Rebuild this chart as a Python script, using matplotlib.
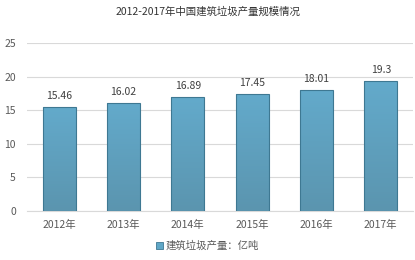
import numpy as np
import matplotlib
matplotlib.use("Agg")
import matplotlib.pyplot as plt
from matplotlib.colors import LinearSegmentedColormap

plt.rcParams['font.family'] = ['Noto Sans CJK SC', 'DejaVu Sans']

years = ["2012年", "2013年", "2014年", "2015年", "2016年", "2017年"]
values = [15.46, 16.02, 16.89, 17.45, 18.01, 19.3]
value_labels = ["15.46", "16.02", "16.89", "17.45", "18.01", "19.3"]
series_name = "建筑垃圾产量：亿吨"

fig = plt.figure(figsize=(4.15, 2.6), dpi=100)
ax = fig.add_axes([0.065, 0.188, 0.93, 0.647])

x = np.arange(len(years))
bars = ax.bar(x, values, width=0.51, color="#5FA7C7", edgecolor="#3E7892",
              linewidth=0.8, label=series_name, zorder=3)

# light vertical shading, darker toward the bottom
cmap = LinearSegmentedColormap.from_list("bar", ["#5B95AF", "#63AACB"])
grad = np.linspace(0, 1, 100).reshape(-1, 1)
for b in bars:
    x0, w, h = b.get_x(), b.get_width(), b.get_height()
    im = ax.imshow(grad, extent=[x0, x0 + w, 0, h], origin="lower", cmap=cmap,
                   aspect="auto", zorder=3.1)
    im.set_clip_path(b)
    b.set_facecolor("none")
    b.set_zorder(3.2)

for xi, v, lab in zip(x, values, value_labels):
    ax.text(xi, v + 0.9, lab, ha="center", va="bottom", fontsize=7.5, color="#404040")

ax.set_xlim(-0.5, len(years) - 0.5)
ax.set_ylim(0, 25)
ax.set_yticks([0, 5, 10, 15, 20, 25])
ax.set_xticks(x)
ax.set_xticklabels(years)
ax.grid(axis="y", color="#D9D9D9", linewidth=0.8, zorder=0)
for s in ["top", "right", "left"]:
    ax.spines[s].set_visible(False)
ax.spines["bottom"].set_color("#D9D9D9")
ax.tick_params(axis="both", length=0, labelsize=7.5, colors="#595959")
ax.tick_params(axis="x", pad=6)
ax.tick_params(axis="y", pad=8)

fig.text(0.5, 0.955, "2012-2017年中国建筑垃圾产量规模情况", ha="center", va="center",
         fontsize=7.5, color="#333333")

handle = plt.Rectangle((0, 0), 1, 1, facecolor="#5FA7C7", edgecolor="#3E7892", linewidth=0.6)
fig.legend(handles=[handle], labels=[series_name], loc="center", bbox_to_anchor=(0.5, 0.055),
           frameon=False, fontsize=7.5, handlelength=0.7, handleheight=0.7,
           handletextpad=0.3, labelcolor="#595959")

fig.savefig("out.png", dpi=100)
